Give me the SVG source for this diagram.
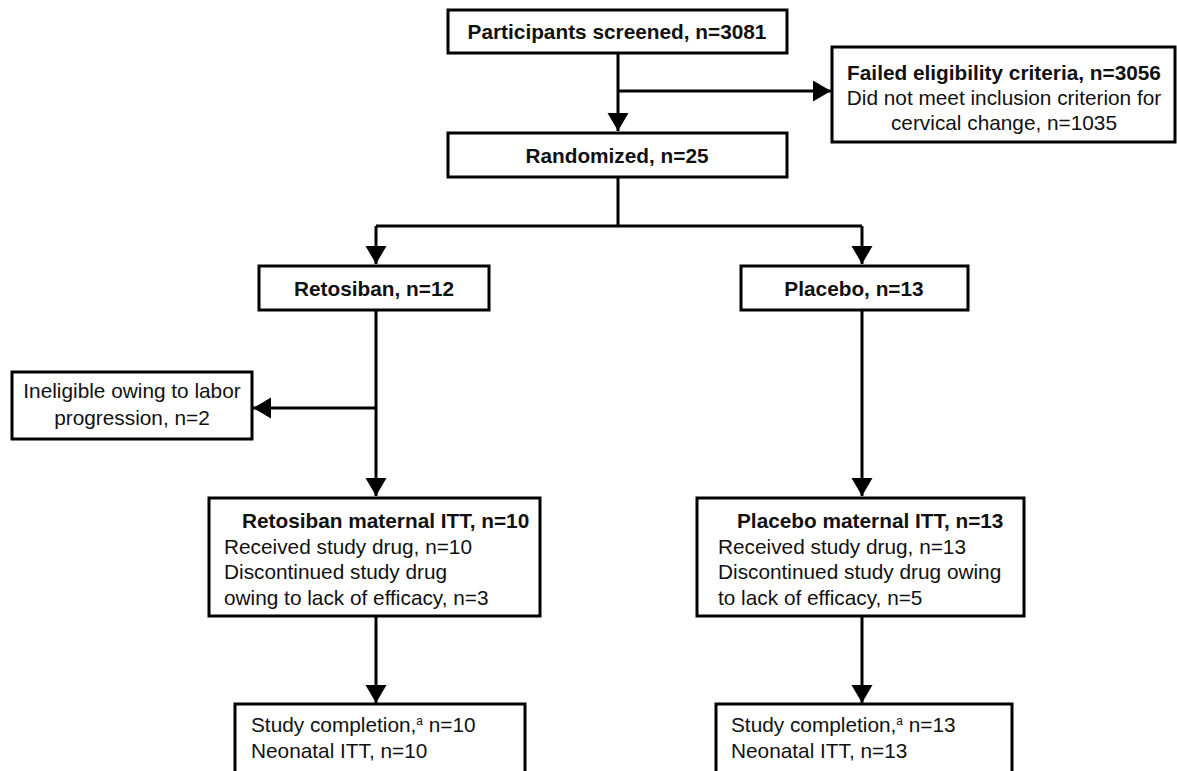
<svg xmlns="http://www.w3.org/2000/svg" width="1177" height="771" viewBox="0 0 1177 771">
<style>
.box{fill:#fff;stroke:#000;stroke-width:3}
.t{font-family:"Liberation Sans",Arial,sans-serif;font-size:20.8px;fill:#111}
.b{font-weight:bold}
.c{text-anchor:middle}
.ln{fill:none;stroke:#000;stroke-width:3}
.sup{font-size:12px}
</style>
<defs>
<marker id="ah" markerUnits="userSpaceOnUse" markerWidth="20" markerHeight="22" refX="18" refY="10.5" orient="auto">
<path d="M0,0 L18,10.5 L0,21 Z" fill="#000"/>
</marker>
</defs>
<rect width="1177" height="771" fill="#fff"/>
<g id="connectors">
<path class="ln" d="M618,53 V131" marker-end="url(#ah)"/>
<path class="ln" d="M618,91 H831" marker-end="url(#ah)"/>
<path class="ln" d="M618,177 V226"/>
<path class="ln" d="M376,226 H862"/>
<path class="ln" d="M376,226 V264" marker-end="url(#ah)"/>
<path class="ln" d="M862,226 V264" marker-end="url(#ah)"/>
<path class="ln" d="M376,310 V496" marker-end="url(#ah)"/>
<path class="ln" d="M376,408 H253" marker-end="url(#ah)"/>
<path class="ln" d="M862,310 V496" marker-end="url(#ah)"/>
<path class="ln" d="M376,617 V703" marker-end="url(#ah)"/>
<path class="ln" d="M862,617 V703" marker-end="url(#ah)"/>
</g>
<g id="screened">
<rect class="box" x="448" y="10" width="339" height="43"/>
<text class="t b c" x="617" y="39">Participants screened, n=3081</text>
</g>
<g id="failed">
<rect class="box" x="832" y="47" width="343" height="95"/>
<text class="t b c" x="1004" y="80">Failed eligibility criteria, n=3056</text>
<text class="t c" x="1004" y="105">Did not meet inclusion criterion for</text>
<text class="t c" x="1004" y="130">cervical change, n=1035</text>
</g>
<g id="randomized">
<rect class="box" x="448" y="133" width="339" height="44"/>
<text class="t b c" x="617" y="163">Randomized, n=25</text>
</g>
<g id="retosiban">
<rect class="box" x="259" y="266" width="230" height="44"/>
<text class="t b c" x="374" y="296">Retosiban, n=12</text>
</g>
<g id="placebo">
<rect class="box" x="741" y="266" width="227" height="44"/>
<text class="t b c" x="854" y="296">Placebo, n=13</text>
</g>
<g id="ineligible">
<rect class="box" x="12" y="372" width="240" height="67"/>
<text class="t c" x="132" y="398">Ineligible owing to labor</text>
<text class="t c" x="132" y="425">progression, n=2</text>
</g>
<g id="retosiban-itt">
<rect class="box" x="209" y="498" width="331" height="118"/>
<text class="t b" x="242" y="528">Retosiban maternal ITT, n=10</text>
<text class="t" x="224" y="554">Received study drug, n=10</text>
<text class="t" x="224" y="579">Discontinued study drug</text>
<text class="t" x="224" y="605">owing to lack of efficacy, n=3</text>
</g>
<g id="placebo-itt">
<rect class="box" x="697" y="498" width="327" height="118"/>
<text class="t b" x="737" y="528">Placebo maternal ITT, n=13</text>
<text class="t" x="718" y="554">Received study drug, n=13</text>
<text class="t" x="718" y="579">Discontinued study drug owing</text>
<text class="t" x="718" y="605">to lack of efficacy, n=5</text>
</g>
<g id="retosiban-completion">
<rect class="box" x="235" y="704" width="290" height="80"/>
<text class="t" x="251" y="732">Study completion,<tspan class="sup" dy="-7">a</tspan><tspan dy="7"> n=10</tspan></text>
<text class="t" x="251" y="758">Neonatal ITT, n=10</text>
</g>
<g id="placebo-completion">
<rect class="box" x="716" y="704" width="296" height="80"/>
<text class="t" x="731" y="732">Study completion,<tspan class="sup" dy="-7">a</tspan><tspan dy="7"> n=13</tspan></text>
<text class="t" x="731" y="758">Neonatal ITT, n=13</text>
</g>
</svg>
